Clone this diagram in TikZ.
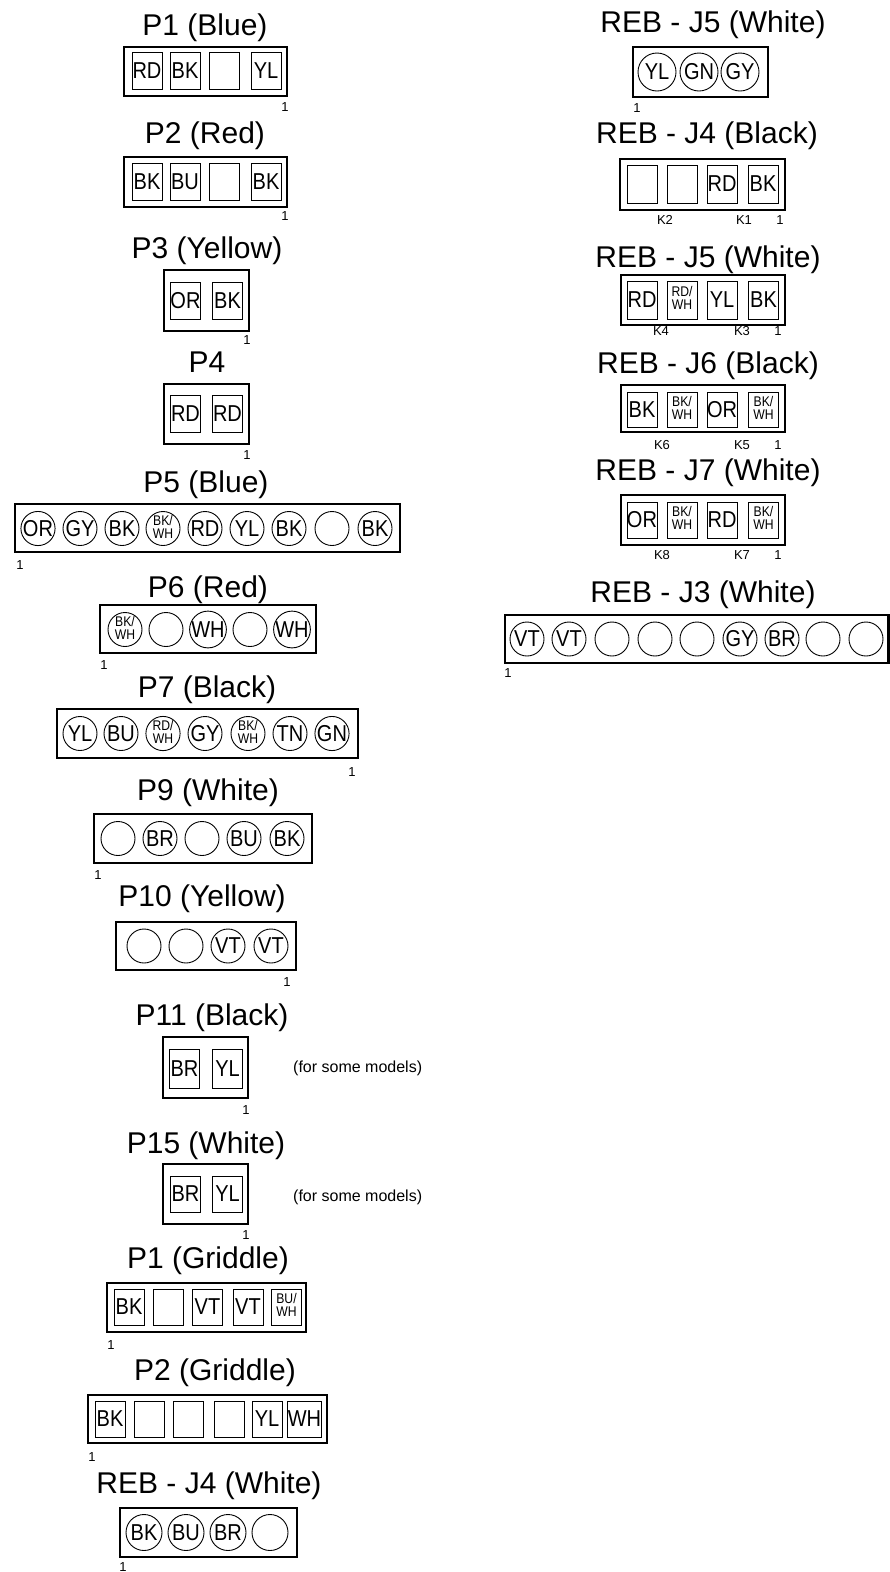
\documentclass[tikz,border=0pt]{standalone}
\usepackage{fontspec}
\setmainfont{Liberation Sans}
\newfontfamily\pinfont{Liberation Sans}[FakeStretch=0.87]
\newcommand\pair[2]{{\pinfont\fontsize{14}{12}\selectfont\begin{tabular}{@{}c@{}}#1/\\#2\end{tabular}}}
\begin{document}
\begin{tikzpicture}[x=1pt,y=-1pt,
  housing/.style={draw=black,line width=2.5pt},
  sq/.style={rectangle,draw=black,line width=0.9pt,minimum width=30pt,minimum height=37pt,inner sep=0pt,font=\pinfont\fontsize{23}{23}\selectfont},
  pin/.style={circle,draw=black,line width=0.9pt,minimum size=34pt,inner sep=0pt,font=\pinfont\fontsize{23}{23}\selectfont},
  title/.style={anchor=base,inner sep=0pt,font=\fontsize{30}{30}\selectfont},
  num/.style={inner sep=0pt,font=\fontsize{13}{13}\selectfont},
  note/.style={anchor=west,inner sep=0pt,font=\fontsize{16}{16}\selectfont}]
    \useasboundingbox (0,0) rectangle (890,1572);

    % left column
    \node[title] (p1b) at (205,35) {P1 (Blue)};
    \draw[housing] (124,47) rectangle (287,96);
    \foreach \x/\t [count=\i] in {147/RD,185/BK,224/{},266/YL}
      \node[sq,name=p1b-\i] at (\x,71) {\t};
    \node[num] (p1b-n) at (285,107) {1};

    \node[title] (p2r) at (205,143) {P2 (Red)};
    \draw[housing] (124,157) rectangle (287,207);
    \foreach \x/\t [count=\i] in {147/BK,185/BU,224/{},266/BK}
      \node[sq,name=p2r-\i] at (\x,182) {\t};
    \node[num] (p2r-n) at (285,216) {1};

    \node[title] (p3y) at (207,258) {P3 (Yellow)};
    \draw[housing] (164,270) rectangle (249,331);
    \foreach \x/\t [count=\i] in {185.5/OR,227.5/BK}
      \node[sq,name=p3y-\i] at (\x,300.5) {\t};
    \node[num] (p3y-n) at (247,340) {1};

    \node[title] (p4) at (207,372) {P4};
    \draw[housing] (164,384) rectangle (249,444);
    \foreach \x/\t [count=\i] in {185.5/RD,227.5/RD}
      \node[sq,name=p4-\i] at (\x,414) {\t};
    \node[num] (p4-n) at (247,455) {1};

    \node[title] (p5b) at (206,492) {P5 (Blue)};
    \draw[housing] (15,504) rectangle (400,552);
    \foreach \x/\t [count=\i] in {38/OR,80/GY,122/BK,163/\pair{BK}{WH},205/RD,247/YL,289/BK,332/{},375/BK}
      \node[pin,name=p5b-\i] at (\x,528.5) {\t};
    \node[num] (p5b-n) at (20,565) {1};

    \node[title] (p6r) at (208,597) {P6 (Red)};
    \draw[housing] (100,605) rectangle (316,653);
    \foreach \x/\t [count=\i] in {125/\pair{BK}{WH},166/{},208/WH,250/{},292/WH}
      \node[pin,name=p6r-\i] at (\x,629.5) {\t};
    \node[num] (p6r-n) at (104,665) {1};

    \node[title] (p7k) at (207,697) {P7 (Black)};
    \draw[housing] (57,709) rectangle (358,758);
    \foreach \x/\t [count=\i] in {80/YL,121/BU,163/\pair{RD}{WH},205/GY,248/\pair{BK}{WH},290/TN,332/GN}
      \node[pin,name=p7k-\i] at (\x,733.5) {\t};
    \node[num] (p7k-n) at (352,772) {1};

    \node[title] (p9w) at (208,800) {P9 (White)};
    \draw[housing] (94,814) rectangle (312,863);
    \foreach \x/\t [count=\i] in {118/{},160/BR,202/{},244/BU,287/BK}
      \node[pin,name=p9w-\i] at (\x,838.5) {\t};
    \node[num] (p9w-n) at (98,875) {1};

    \node[title] (p10y) at (202,906) {P10 (Yellow)};
    \draw[housing] (116,922) rectangle (296,970);
    \foreach \x/\t [count=\i] in {144/{},186/{},228/VT,271/VT}
      \node[pin,name=p10y-\i] at (\x,946) {\t};
    \node[num] (p10y-n) at (287,982) {1};

    \node[title] (p11k) at (212,1025) {P11 (Black)};
    \draw[housing] (163,1037) rectangle (248,1098);
    \foreach \x/\t [count=\i] in {184.5/BR,227.5/YL}
      \node[sq,minimum height=39pt,name=p11k-\i] at (\x,1068.5) {\t};
    \node[note] (p11k-note) at (293,1068) {(for some models)};
    \node[num] (p11k-n) at (246,1110) {1};

    \node[title] (p15w) at (206,1153) {P15 (White)};
    \draw[housing] (163,1164) rectangle (248,1224);
    \foreach \x/\t [count=\i] in {185.5/BR,227.5/YL}
      \node[sq,minimum height=36pt,name=p15w-\i] at (\x,1194) {\t};
    \node[note] (p15w-note) at (293,1197) {(for some models)};
    \node[num] (p15w-n) at (246,1235) {1};

    \node[title] (p1g) at (208,1268) {P1 (Griddle)};
    \draw[housing] (107,1283) rectangle (306,1332);
    \foreach \x/\t [count=\i] in {129/BK,168/{},207.5/VT,248/VT,286.5/\pair{BU}{WH}}
      \node[sq,minimum height=36pt,name=p1g-\i] at (\x,1307) {\t};
    \node[num] (p1g-n) at (111,1345) {1};

    \node[title] (p2g) at (215,1380) {P2 (Griddle)};
    \draw[housing] (88,1395) rectangle (327,1443);
    \foreach \x/\t [count=\i] in {110/BK,149/{},188/{},229.5/{},267/YL,304.5/WH}
      \node[sq,minimum height=36pt,name=p2g-\i] at (\x,1419) {\t};
    \node[num] (p2g-n) at (92,1457) {1};

    \node[title] (j4w) at (209,1493) {REB - J4 (White)};
    \draw[housing] (120,1508) rectangle (297,1557);
    \foreach \x/\t [count=\i] in {144/BK,186/BU,228/BR,270/{}}
      \node[pin,minimum size=36pt,name=j4w-\i] at (\x,1532.5) {\t};
    \node[num] (j4w-n) at (123,1567) {1};

    % right column
    \node[title] (j5w) at (713,32) {REB - J5 (White)};
    \draw[housing] (633,47) rectangle (768,97);
    \foreach \x/\t [count=\i] in {657/YL,699/GN,740/GY}
      \node[pin,minimum size=38pt,name=j5w-\i] at (\x,72) {\t};
    \node[num] (j5w-n) at (637,108) {1};

    \node[title] (j4k) at (707,143) {REB - J4 (Black)};
    \draw[housing] (620,159) rectangle (785,210);
    \foreach \x/\t [count=\i] in {642.5/{},682/{},722/RD,763/BK}
      \node[sq,minimum height=38pt,name=j4k-\i] at (\x,184) {\t};
    \node[num] (j4k-k2) at (665,220) {K2};
    \node[num] (j4k-k1) at (744,220) {K1};
    \node[num] (j4k-n) at (780,220) {1};

    \node[title] (j5r) at (708,267) {REB - J5 (White)};
    \draw[housing] (621,275) rectangle (785,325);
    \foreach \x/\t [count=\i] in {642/RD,682/\pair{RD}{WH},722/YL,763.5/BK}
      \node[sq,minimum height=38pt,name=j5r-\i] at (\x,300) {\t};
    \node[num] (j5r-k4) at (661,331) {K4};
    \node[num] (j5r-k3) at (742,331) {K3};
    \node[num] (j5r-n) at (778,331) {1};

    \node[title] (j6k) at (708,373) {REB - J6 (Black)};
    \draw[housing] (621,385) rectangle (785,432);
    \foreach \x/\t [count=\i] in {642/BK,682/\pair{BK}{WH},722/OR,763.5/\pair{BK}{WH}}
      \node[sq,minimum height=35pt,name=j6k-\i] at (\x,409.5) {\t};
    \node[num] (j6k-k6) at (662,445) {K6};
    \node[num] (j6k-k5) at (742,445) {K5};
    \node[num] (j6k-n) at (778,445) {1};

    \node[title] (j7w) at (708,480) {REB - J7 (White)};
    \draw[housing] (621,495) rectangle (785,545);
    \foreach \x/\t [count=\i] in {642/OR,682/\pair{BK}{WH},722/RD,763.5/\pair{BK}{WH}}
      \node[sq,minimum height=36pt,name=j7w-\i] at (\x,520) {\t};
    \node[num] (j7w-k8) at (662,555) {K8};
    \node[num] (j7w-k7) at (742,555) {K7};
    \node[num] (j7w-n) at (778,555) {1};

    \node[title] (j3w) at (703,602) {REB - J3 (White)};
    \draw[housing] (505,615) rectangle (888.5,663);
    \foreach \x/\t [count=\i] in {527/VT,569/VT,612/{},655/{},697/{},740/GY,782/BR,823/{},866/{}}
      \node[pin,name=j3w-\i] at (\x,639) {\t};
    \node[num] (j3w-n) at (508,673) {1};

\end{tikzpicture}
\end{document}
